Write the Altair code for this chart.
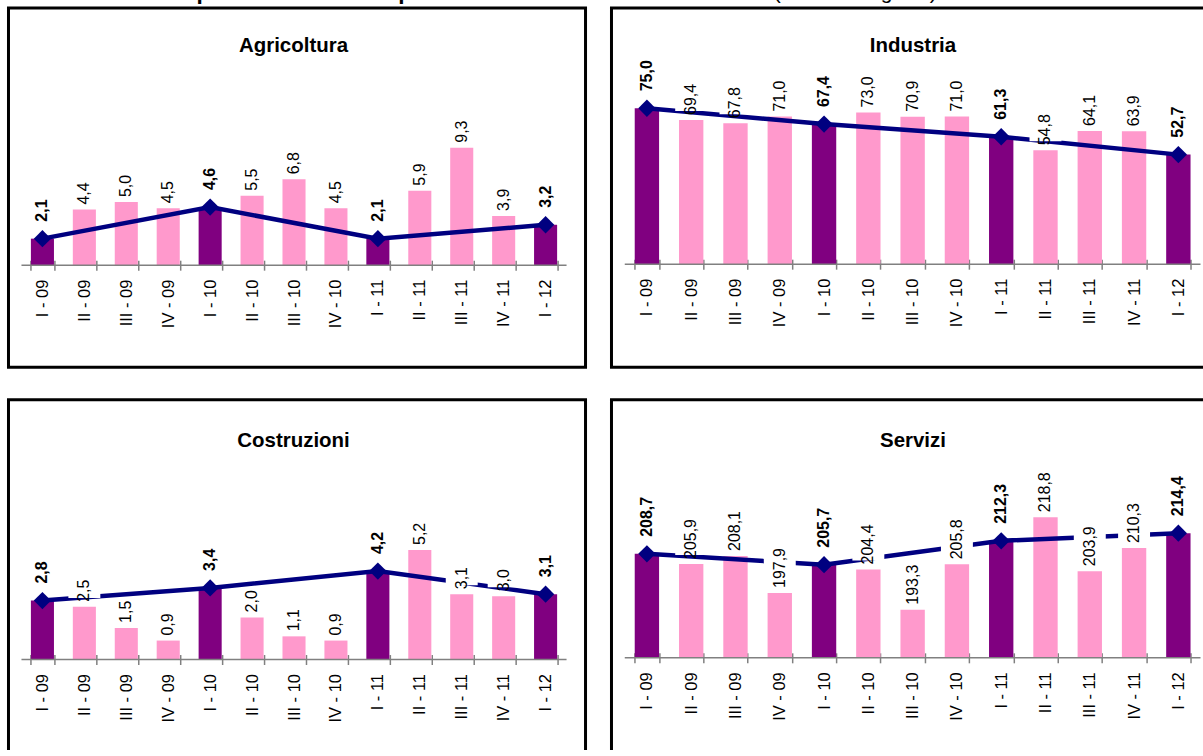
import altair as alt
import pandas as pd

# Quarters on the x axis
trimestri = ["I - 09", "II - 09", "III - 09", "IV - 09",
             "I - 10", "II - 10", "III - 10", "IV - 10",
             "I - 11", "II - 11", "III - 11", "IV - 11", "I - 12"]

# Female employment by sector (thousands)
agricoltura = [2.1, 4.4, 5.0, 4.5, 4.6, 5.5, 6.8, 4.5, 2.1, 5.9, 9.3, 3.9, 3.2]
industria = [75.0, 69.4, 67.8, 71.0, 67.4, 73.0, 70.9, 71.0, 61.3, 54.8, 64.1, 63.9, 52.7]
costruzioni = [2.8, 2.5, 1.5, 0.9, 3.4, 2.0, 1.1, 0.9, 4.2, 5.2, 3.1, 3.0, 3.1]
servizi = [208.7, 205.9, 208.1, 197.9, 205.7, 204.4, 193.3, 205.8, 212.3, 218.8, 203.9, 210.3, 214.4]

titolo = "Graf. 4.2 – L'occupazione femminile per settore di attività nelle Marche"
nota = "(valori in migliaia)"

VIOLA = "#800080"
ROSA = "#FF99CC"
BLU = "#000080"
GRIGIO = "#808080"
FONT = "Liberation Sans"
ALTEZZA = 360


def tabella(valori):
    df = pd.DataFrame({"trimestre": trimestri, "valore": valori})
    df["tipo"] = ["primo" if t.startswith("I ") else "altri" for t in trimestri]
    df["etichetta"] = [f"{v:.1f}".replace(".", ",") for v in valori]
    return df


def pannello(nome, valori, larghezza, x_range, y_dominio, y_range,
             titolo_x, titolo_y, lung_etichetta):
    df = tabella(valori)
    base_val = y_dominio[0]
    asse_offset = (y_range[0] - 5) - ALTEZZA

    x = alt.X(
        "trimestre:N", sort=trimestri, title=None,
        scale=alt.Scale(range=x_range, paddingInner=0.45, paddingOuter=0.225),
        axis=alt.Axis(
            orient="bottom", offset=asse_offset, domain=False,
            tickBand="extent", tickSize=10, tickColor=GRIGIO, tickWidth=1.5,
            labelAngle=270, labelAlign="right", labelBaseline="middle",
            labelFont=FONT, labelFontSize=16.5, labelColor="black",
            labelPadding=9, labelOverlap=False, grid=False,
        ),
    )
    y = alt.Y("valore:Q", scale=alt.Scale(domain=y_dominio, range=y_range), axis=None)

    base = alt.Chart(df)
    primi = base.transform_filter(alt.datum.tipo == "primo")
    altri = base.transform_filter(alt.datum.tipo == "altri")

    barre = base.mark_bar().encode(
        x=x, y=y, y2=alt.datum(base_val),
        color=alt.Color("tipo:N", scale=alt.Scale(domain=["primo", "altri"], range=[VIOLA, ROSA]),
                        legend=None),
    )
    asse = alt.Chart(pd.DataFrame({"valore": [base_val]})).mark_rule(
        color=GRIGIO, strokeWidth=1.5
    ).encode(y=y, x=alt.value(x_range[0]), x2=alt.value(x_range[1]))

    linea = primi.mark_line(color=BLU, strokeWidth=4.5).encode(x=x, y=y)

    # white label backgrounds that interrupt the trend line
    riquadri = altri.mark_bar(
        color="white", size=32, yOffset=-9, y2Offset=-(5 + lung_etichetta + 1)
    ).encode(x=x, y=y, y2=alt.Y2("valore:Q"))

    diamanti = primi.mark_point(
        shape="diamond", filled=True, size=300, color=BLU, opacity=1
    ).encode(x=x, y=y)

    etich_altri = altri.mark_text(
        angle=270, align="left", baseline="middle", font=FONT, fontSize=16,
        color="black", yOffset=-5,
    ).encode(x=x, y=y, text="etichetta:N")

    etich_primi = primi.mark_text(
        angle=270, align="left", baseline="middle", font=FONT, fontSize=16,
        fontWeight="bold", color="black", yOffset=-17,
    ).encode(x=x, y=y, text="etichetta:N")

    intestazione = alt.Chart(pd.DataFrame({"nome": [nome]})).mark_text(
        font=FONT, fontSize=20.5, fontWeight="bold", align="center",
        baseline="alphabetic", color="black",
    ).encode(x=alt.value(titolo_x), y=alt.value(titolo_y), text="nome:N")

    return alt.layer(
        barre, asse, linea, riquadri, diamanti, etich_altri, etich_primi, intestazione
    ).properties(
        width=larghezza, height=ALTEZZA,
        view=alt.ViewBackground(stroke="black", strokeWidth=3, fill="white"),
    )


p_agr = pannello("Agricoltura", agricoltura, 578, [13, 559], [0, 10], [257.7, 131.2], 285.5, 44, 22)
p_ind = pannello("Industria", industria, 597.5, [13.3, 590], [0, 80], [256.7, 90.1], 302, 44, 31)
p_cos = pannello("Costruzioni", costruzioni, 578, [13, 559], [0, 6], [260.3, 133.7], 285.5, 47, 22)
p_ser = pannello("Servizi", servizi, 597.5, [13.3, 590], [180, 220], [258.6, 113.4], 302, 47, 40)

# Heading strip: the top of the page crops its upper part
testata_df = pd.DataFrame({"titolo": [titolo], "nota": [nota]})
testata = alt.layer(
    alt.Chart(testata_df).mark_text(
        font=FONT, fontSize=22.6, fontWeight="bold", align="left",
        baseline="alphabetic", color="black",
    ).encode(x=alt.value(1), y=alt.value(20), text="titolo:N"),
    alt.Chart(testata_df).mark_text(
        font=FONT, fontSize=21, align="left",
        baseline="alphabetic", color="black",
    ).encode(x=alt.value(766.5), y=alt.value(20), text="nota:N"),
).properties(width=1190, height=25, view=alt.ViewBackground(stroke="transparent"))

griglia = alt.vconcat(
    alt.hconcat(p_agr, p_ind, spacing=14),
    alt.hconcat(p_cos, p_ser, spacing=14),
    spacing=28.4,
)

# the page body keeps an 8px margin: the negative padding trims the drawing
# so that it fits inside the window without overflowing it
chart = alt.vconcat(testata, griglia, spacing=1.3).properties(
    padding={"left": -1.5, "top": -23, "right": -6.5, "bottom": -11.7},
    background="white",
)

chart.save("out.html", embed_options={"renderer": "svg", "actions": False})
